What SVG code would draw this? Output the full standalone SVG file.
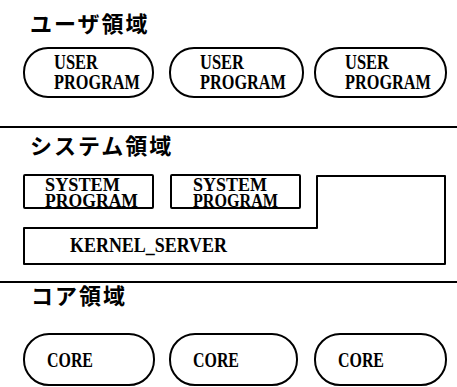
<svg xmlns="http://www.w3.org/2000/svg" width="457" height="387" viewBox="0 0 457 387">
<style>
.bg{fill:#fff}
.shape{fill:none;stroke:#000;stroke-width:2}
.sep{stroke:#000;stroke-width:2}
.title{font-family:"Noto Sans CJK JP","Noto Sans CJK SC",sans-serif;font-size:22px;font-weight:bold;letter-spacing:2px;fill:#000}
.lbl{font-family:"Liberation Serif","DejaVu Serif",serif;font-size:20px;font-weight:bold;fill:#000}
.sm{font-size:18.5px}
</style>
<rect class="bg" x="0" y="0" width="457" height="387"/>
<text class="title" x="30" y="32">ユーザ領域</text>
<text class="title" x="30" y="154">システム領域</text>
<text class="title" x="31" y="304">コア領域</text>
<g id="separators">
<line class="sep" x1="0" y1="127" x2="457" y2="127"/>
<line class="sep" x1="0" y1="282" x2="457" y2="282"/>
</g>
<g id="user1"><rect class="shape" x="24" y="48" width="129" height="49" rx="24" ry="24"/><text class="lbl" x="54" y="69" textLength="44" lengthAdjust="spacingAndGlyphs">USER</text><text class="lbl" x="54" y="89" textLength="86" lengthAdjust="spacingAndGlyphs">PROGRAM</text></g>
<g id="user2"><rect class="shape" x="170" y="48" width="133" height="49" rx="24" ry="24"/><text class="lbl" x="200" y="69" textLength="44" lengthAdjust="spacingAndGlyphs">USER</text><text class="lbl" x="200" y="89" textLength="86" lengthAdjust="spacingAndGlyphs">PROGRAM</text></g>
<g id="user3"><rect class="shape" x="315" y="48" width="131" height="49" rx="24" ry="24"/><text class="lbl" x="345" y="69" textLength="44" lengthAdjust="spacingAndGlyphs">USER</text><text class="lbl" x="345" y="89" textLength="86" lengthAdjust="spacingAndGlyphs">PROGRAM</text></g>
<g id="sys1"><rect class="shape" x="24" y="175" width="129" height="33" rx="1"/><text class="lbl sm" x="45" y="191" textLength="75" lengthAdjust="spacingAndGlyphs">SYSTEM</text><text class="lbl sm" x="45" y="207" textLength="93" lengthAdjust="spacingAndGlyphs">PROGRAM</text></g>
<g id="sys2"><rect class="shape" x="171" y="175" width="129" height="33" rx="1"/><text class="lbl sm" x="193" y="191" textLength="74" lengthAdjust="spacingAndGlyphs">SYSTEM</text><text class="lbl sm" x="193" y="207" textLength="85" lengthAdjust="spacingAndGlyphs">PROGRAM</text></g>
<g id="kernel"><path class="shape" d="M24 228 H317 V176 H445 V264 H24 Z" stroke-linejoin="round"/><text class="lbl" x="70" y="252" textLength="157" lengthAdjust="spacingAndGlyphs">KERNEL_SERVER</text></g>
<g id="core1"><rect class="shape" x="24" y="334" width="130" height="51" rx="25" ry="25"/><text class="lbl" x="47" y="367" textLength="46" lengthAdjust="spacingAndGlyphs">CORE</text></g>
<g id="core2"><rect class="shape" x="170" y="334" width="127" height="51" rx="25" ry="25"/><text class="lbl" x="193" y="367" textLength="46" lengthAdjust="spacingAndGlyphs">CORE</text></g>
<g id="core3"><rect class="shape" x="315" y="334" width="131" height="51" rx="25" ry="25"/><text class="lbl" x="338" y="367" textLength="46" lengthAdjust="spacingAndGlyphs">CORE</text></g>
<g id="connectors"></g>
</svg>
